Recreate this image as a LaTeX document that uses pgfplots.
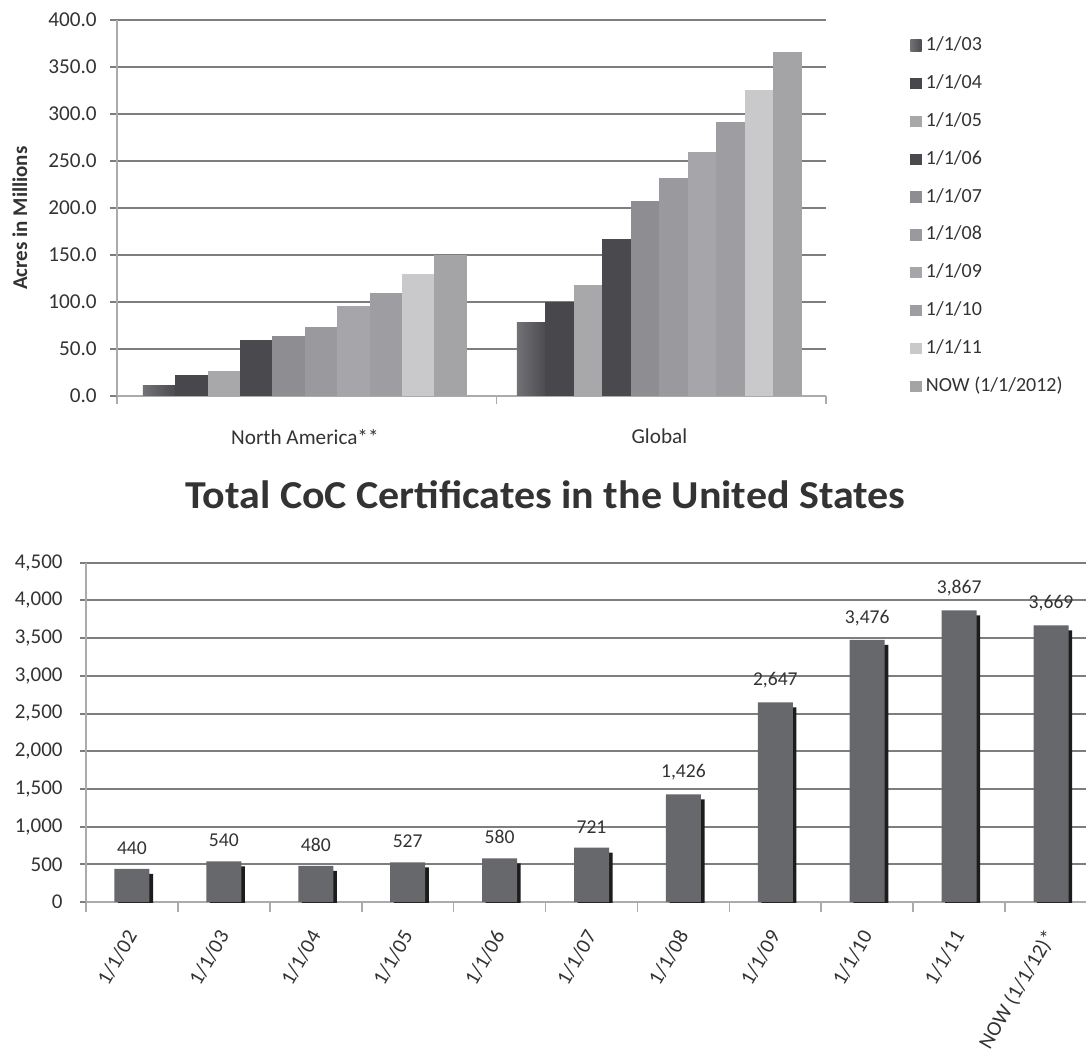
\documentclass[border=0pt]{standalone}
\usepackage{pgfplots}
\usepackage{pgfplotstable}
\pgfplotsset{compat=1.18}
\usepackage{fontspec}
\setmainfont{Carlito}
\newfontfamily\titlefont[FakeStretch=1.06]{Carlito}

\definecolor{gridgray}{HTML}{7E7E7E}
\definecolor{axisgray}{HTML}{ABABAB}
\definecolor{txt}{HTML}{333333}
% series colours, acreage chart
\definecolor{sA}{HTML}{727276}
\definecolor{sAb}{HTML}{4C4C50}
\definecolor{sB}{HTML}{48484C}
\definecolor{sC}{HTML}{A8A8AB}
\definecolor{sD}{HTML}{4A4A4E}
\definecolor{sE}{HTML}{8E8E92}
\definecolor{sF}{HTML}{9A9A9E}
\definecolor{sG}{HTML}{A6A6AA}
\definecolor{sH}{HTML}{9E9EA2}
\definecolor{sI}{HTML}{C9C9CB}
\definecolor{sJ}{HTML}{A4A4A7}
% certificate chart
\definecolor{cocbar}{HTML}{67686C}
\definecolor{cocshadow}{HTML}{1C1C1C}

% certified acres (millions), North America
\pgfplotstableread{
grp s03 s04 s05 s06 s07 s08 s09 s10 s11 s12
0   11  22  27  60  64  73  96  110 130 150
}\acresNA
% certified acres (millions), Global
\pgfplotstableread{
grp s03 s04 s05 s06 s07 s08 s09 s10 s11 s12
1   78  100 118 167 207 232 260 292 326 366
}\acresGL

% chain-of-custody certificates in the US
\pgfplotstableread{
idx val
0   440
1   540
2   480
3   527
4   580
5   721
6   1426
7   2647
8   3476
9   3867
10  3669
}\coc

\pgfplotsset{
  nabar/.style={ybar, bar width=16.2pt, draw=none,
    legend image code/.code={\fill[##1] (0pt,-2.8pt) rectangle (5.6pt,2.8pt);}},
  glbar/.style={ybar, bar width=14.25pt, draw=none, forget plot},
}

\begin{document}
\begin{tikzpicture}
\useasboundingbox (0,0) rectangle (543pt,530.5pt);
\fill[white] (0,0) rectangle (543pt,530.5pt);

\begin{axis}[
  at={(58.5pt,332.5pt)}, anchor=south west,
  scale only axis, width=354.5pt, height=188pt,
  ymin=0, ymax=400, ytick={0,50,...,400},
  xmin=-0.53, xmax=1.47,
  xtick={0,1}, xticklabels={North America**, Global},
  minor xtick={-0.53,0.54,1.47},
  axis x line*=bottom, axis y line*=left,
  axis line style={axisgray, line width=0.8pt},
  ymajorgrids, grid style={gridgray, line width=1pt},
  tick align=outside,
  major tick length=3.5pt, minor tick length=4pt,
  major x tick style={draw=none},
  minor x tick style={axisgray, line width=0.8pt},
  ytick style={gridgray, line width=1pt},
  ticklabel style={font=\fontsize{10.6}{12}\selectfont, text=txt},
  /pgf/number format/assume math mode=true,
  yticklabel style={/pgf/number format/fixed, /pgf/number format/fixed zerofill,
    /pgf/number format/precision=1, anchor=east, inner sep=0pt},
  yticklabel shift=6.5pt,
  xticklabel style={anchor=north, inner sep=0pt},
  xticklabel shift=12.8pt,
  ylabel={Acres in Millions},
  ylabel style={at={(axis description cs:-0.137,0.473)}, anchor=center,
    font=\bfseries\fontsize{10.5}{12}\selectfont, text=txt},
  legend style={at={(1.11,0.968)}, anchor=north west, draw=none, fill=none,
    font=\fontsize{10}{12}\selectfont, text=txt, row sep=9.95pt,
    nodes={inner sep=0pt, text height=7pt, text depth=2pt},
    /tikz/every odd column/.append style={column sep=2.2pt}},
  legend cell align=left,
]
% North America group
\addplot[nabar, bar shift=-72.9pt, left color=sA, right color=sAb] table[x=grp,y=s03]{\acresNA};
\addplot[nabar, bar shift=-56.7pt, fill=sB] table[x=grp,y=s04]{\acresNA};
\addplot[nabar, bar shift=-40.5pt, fill=sC] table[x=grp,y=s05]{\acresNA};
\addplot[nabar, bar shift=-24.3pt, fill=sD] table[x=grp,y=s06]{\acresNA};
\addplot[nabar, bar shift=-8.1pt,  fill=sE] table[x=grp,y=s07]{\acresNA};
\addplot[nabar, bar shift=8.1pt,   fill=sF] table[x=grp,y=s08]{\acresNA};
\addplot[nabar, bar shift=24.3pt,  fill=sG] table[x=grp,y=s09]{\acresNA};
\addplot[nabar, bar shift=40.5pt,  fill=sH] table[x=grp,y=s10]{\acresNA};
\addplot[nabar, bar shift=56.7pt,  fill=sI] table[x=grp,y=s11]{\acresNA};
\addplot[nabar, bar shift=72.9pt,  fill=sJ] table[x=grp,y=s12]{\acresNA};
% Global group
\addplot[glbar, bar shift=-64.125pt, left color=sA, right color=sAb] table[x=grp,y=s03]{\acresGL};
\addplot[glbar, bar shift=-49.875pt, fill=sB] table[x=grp,y=s04]{\acresGL};
\addplot[glbar, bar shift=-35.625pt, fill=sC] table[x=grp,y=s05]{\acresGL};
\addplot[glbar, bar shift=-21.375pt, fill=sD] table[x=grp,y=s06]{\acresGL};
\addplot[glbar, bar shift=-7.125pt,  fill=sE] table[x=grp,y=s07]{\acresGL};
\addplot[glbar, bar shift=7.125pt,   fill=sF] table[x=grp,y=s08]{\acresGL};
\addplot[glbar, bar shift=21.375pt,  fill=sG] table[x=grp,y=s09]{\acresGL};
\addplot[glbar, bar shift=35.625pt,  fill=sH] table[x=grp,y=s10]{\acresGL};
\addplot[glbar, bar shift=49.875pt,  fill=sI] table[x=grp,y=s11]{\acresGL};
\addplot[glbar, bar shift=64.125pt,  fill=sJ] table[x=grp,y=s12]{\acresGL};
\legend{1/1/03,1/1/04,1/1/05,1/1/06,1/1/07,1/1/08,1/1/09,1/1/10,1/1/11,NOW (1/1/2012)}
\end{axis}

\node[font=\titlefont\bfseries\fontsize{19.8}{22}\selectfont, text=txt] at (272.75pt,283pt)
  {Total CoC Certificates in the United States};

\begin{axis}[
  at={(43pt,79.5pt)}, anchor=south west,
  scale only axis, width=505.5pt, height=169.65pt,
  ymin=0, ymax=4500, ytick={0,500,...,4500},
  xmin=-0.5, xmax=10.5,
  xtick={0,...,10},
  xticklabels={1/1/02,1/1/03,1/1/04,1/1/05,1/1/06,1/1/07,1/1/08,1/1/09,1/1/10,1/1/11,NOW (1/1/12)*},
  minor xtick={-0.5,0.5,...,10.5},
  axis x line*=bottom, axis y line*=left,
  axis line style={axisgray, line width=0.8pt},
  ymajorgrids, grid style={gridgray, line width=1pt},
  tick align=outside,
  major tick length=3pt, minor tick length=5pt,
  major x tick style={draw=none},
  minor x tick style={axisgray, line width=0.8pt},
  ytick style={gridgray, line width=1pt},
  ticklabel style={font=\fontsize{10.5}{12}\selectfont, text=txt},
  /pgf/number format/assume math mode=true,
  yticklabel style={/pgf/number format/fixed, /pgf/number format/1000 sep={,},
    anchor=east, inner sep=0pt},
  yticklabel shift=8.5pt,
  xticklabel style={rotate=60, anchor=east, inner sep=0pt},
  xticklabel shift=12pt,
]
% drop shadow behind each bar
\addplot[ybar, bar width=17.5pt, bar shift=1.8pt, draw=none, fill=cocshadow, yshift=-2.5pt]
  table[x=idx,y=val]{\coc};
\addplot[ybar, bar width=17.5pt, bar shift=0pt, draw=none, fill=cocbar,
  nodes near coords={\pgfmathprintnumber[fixed,1000 sep={,}]{\pgfplotspointmeta}},
  nodes near coords style={font=\fontsize{9.8}{11}\selectfont, text=txt,
    anchor=south, inner sep=0pt, yshift=7pt}]
  table[x=idx,y=val]{\coc};
\end{axis}
\end{tikzpicture}
\end{document}
